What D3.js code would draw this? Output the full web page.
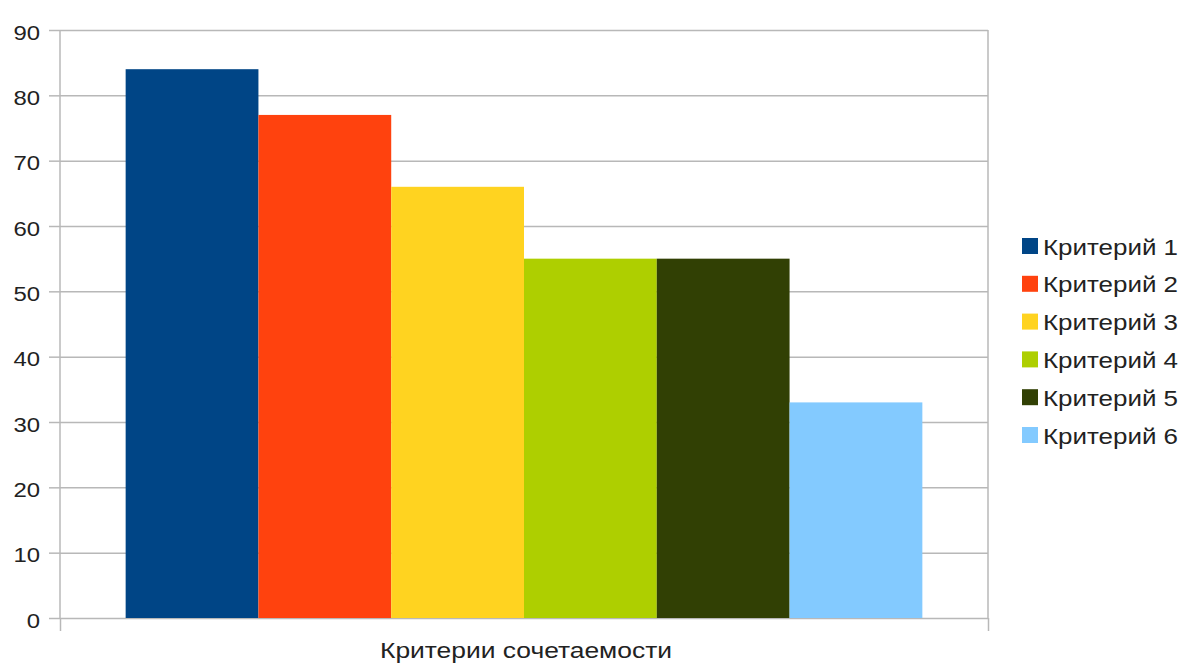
<!DOCTYPE html>
<html>
<head>
<meta charset="utf-8">
<script src="https://cdn.jsdelivr.net/npm/d3@7"></script>
<style>
  html, body { margin: 0; padding: 0; background: #ffffff; }
  svg { display: block; }
  text { font-family: "Liberation Sans", Arial, sans-serif; fill: #222; }
</style>
</head>
<body>
<svg id="chart" width="1183" height="664"></svg>
<script>
const categories = ["Критерии сочетаемости"];
const seriesNames = ["Критерий 1", "Критерий 2", "Критерий 3", "Критерий 4", "Критерий 5", "Критерий 6"];
const seriesValues = [84, 77, 66, 55, 55, 33];
const seriesColors = ["#004586", "#ff420e", "#ffd320", "#aecf00", "#314004", "#83caff"];
const yTicks = [0, 10, 20, 30, 40, 50, 60, 70, 80, 90];

const svg = d3.select("#chart");
const plot = { left: 60, right: 988, top: 30, bottom: 618 };
const gridColor = "#b8b8b8";

const y = d3.scaleLinear().domain([0, 90]).range([plot.bottom, plot.top]);
const x0 = d3.scaleBand().domain(categories).range([plot.left, plot.right])
  .paddingInner(0).paddingOuter(0.0824);
const x1 = d3.scaleBand().domain(seriesNames).range([0, x0.bandwidth()]).padding(0);

// gridlines
const grid = svg.append("g").attr("transform", `translate(${plot.left},0)`)
  .call(d3.axisLeft(y).tickValues(yTicks).tickSize(-(plot.right - plot.left)).tickFormat(""));
grid.select(".domain").remove();
grid.selectAll("line").attr("stroke", gridColor).attr("stroke-width", 1.5);

// y axis with labels and outer ticks
const yAxis = svg.append("g").attr("transform", `translate(${plot.left},0)`)
  .call(d3.axisLeft(y).tickValues(yTicks).tickSize(11).tickPadding(9));
yAxis.select(".domain").remove();
yAxis.selectAll("line").attr("stroke", gridColor).attr("stroke-width", 1.5);
yAxis.selectAll("text")
  .attr("font-size", 20)
  .attr("dy", "0.45em")
  .attr("fill", "#222")
  .style("font-family", "'Liberation Sans', Arial, sans-serif")
  .each(function(d) {
    const n = String(d).length;
    d3.select(this).attr("textLength", n * 13.3).attr("lengthAdjust", "spacingAndGlyphs");
  });

// bars
svg.append("g").selectAll("rect")
  .data(seriesNames.map((s, i) => ({ s, v: seriesValues[i], c: seriesColors[i], cat: categories[0] })))
  .join("rect")
  .attr("x", d => x0(d.cat) + x1(d.s))
  .attr("y", d => y(d.v))
  .attr("width", x1.bandwidth())
  .attr("height", d => y(0) - y(d.v))
  .attr("fill", d => d.c);

// vertical axis lines (left and right boundary) with bottom ticks
const xEdge = d3.scaleLinear().domain([0, 1]).range([plot.left, plot.right]);
const xAxisEdges = svg.append("g").attr("transform", `translate(0,${plot.bottom})`)
  .call(d3.axisBottom(xEdge).tickValues([0, 1]).tickSize(13).tickFormat(""));
xAxisEdges.select(".domain").remove();
xAxisEdges.selectAll("line").attr("stroke", gridColor).attr("stroke-width", 1.5);

svg.append("line")
  .attr("x1", plot.left).attr("x2", plot.left)
  .attr("y1", plot.top).attr("y2", plot.bottom)
  .attr("stroke", gridColor).attr("stroke-width", 1.5);
svg.append("line")
  .attr("x1", plot.right).attr("x2", plot.right)
  .attr("y1", plot.top).attr("y2", plot.bottom)
  .attr("stroke", gridColor).attr("stroke-width", 1.5);

// category label
const xAxis = svg.append("g").attr("transform", `translate(0,${plot.bottom})`)
  .call(d3.axisBottom(x0).tickSize(0).tickPadding(0));
xAxis.select(".domain").remove();
xAxis.selectAll("text")
  .attr("y", 40)
  .attr("dy", 0)
  .attr("dx", 2)
  .attr("font-size", 22)
  .attr("fill", "#222")
  .style("font-family", "'Liberation Sans', Arial, sans-serif")
  .attr("textLength", 292)
  .attr("lengthAdjust", "spacingAndGlyphs");

// legend
const legendY = d3.scalePoint().domain(seriesNames).range([246, 435]);
const legend = svg.append("g").selectAll("g")
  .data(seriesNames.map((s, i) => ({ s, c: seriesColors[i] })))
  .join("g")
  .attr("transform", d => `translate(1022,${legendY(d.s)})`);
legend.append("rect")
  .attr("x", 0).attr("y", -8).attr("width", 16).attr("height", 16)
  .attr("fill", d => d.c);
legend.append("text")
  .attr("x", 21).attr("y", 8.5)
  .attr("font-size", 22)
  .attr("textLength", 135)
  .attr("lengthAdjust", "spacingAndGlyphs")
  .text(d => d.s);
</script>
</body>
</html>
